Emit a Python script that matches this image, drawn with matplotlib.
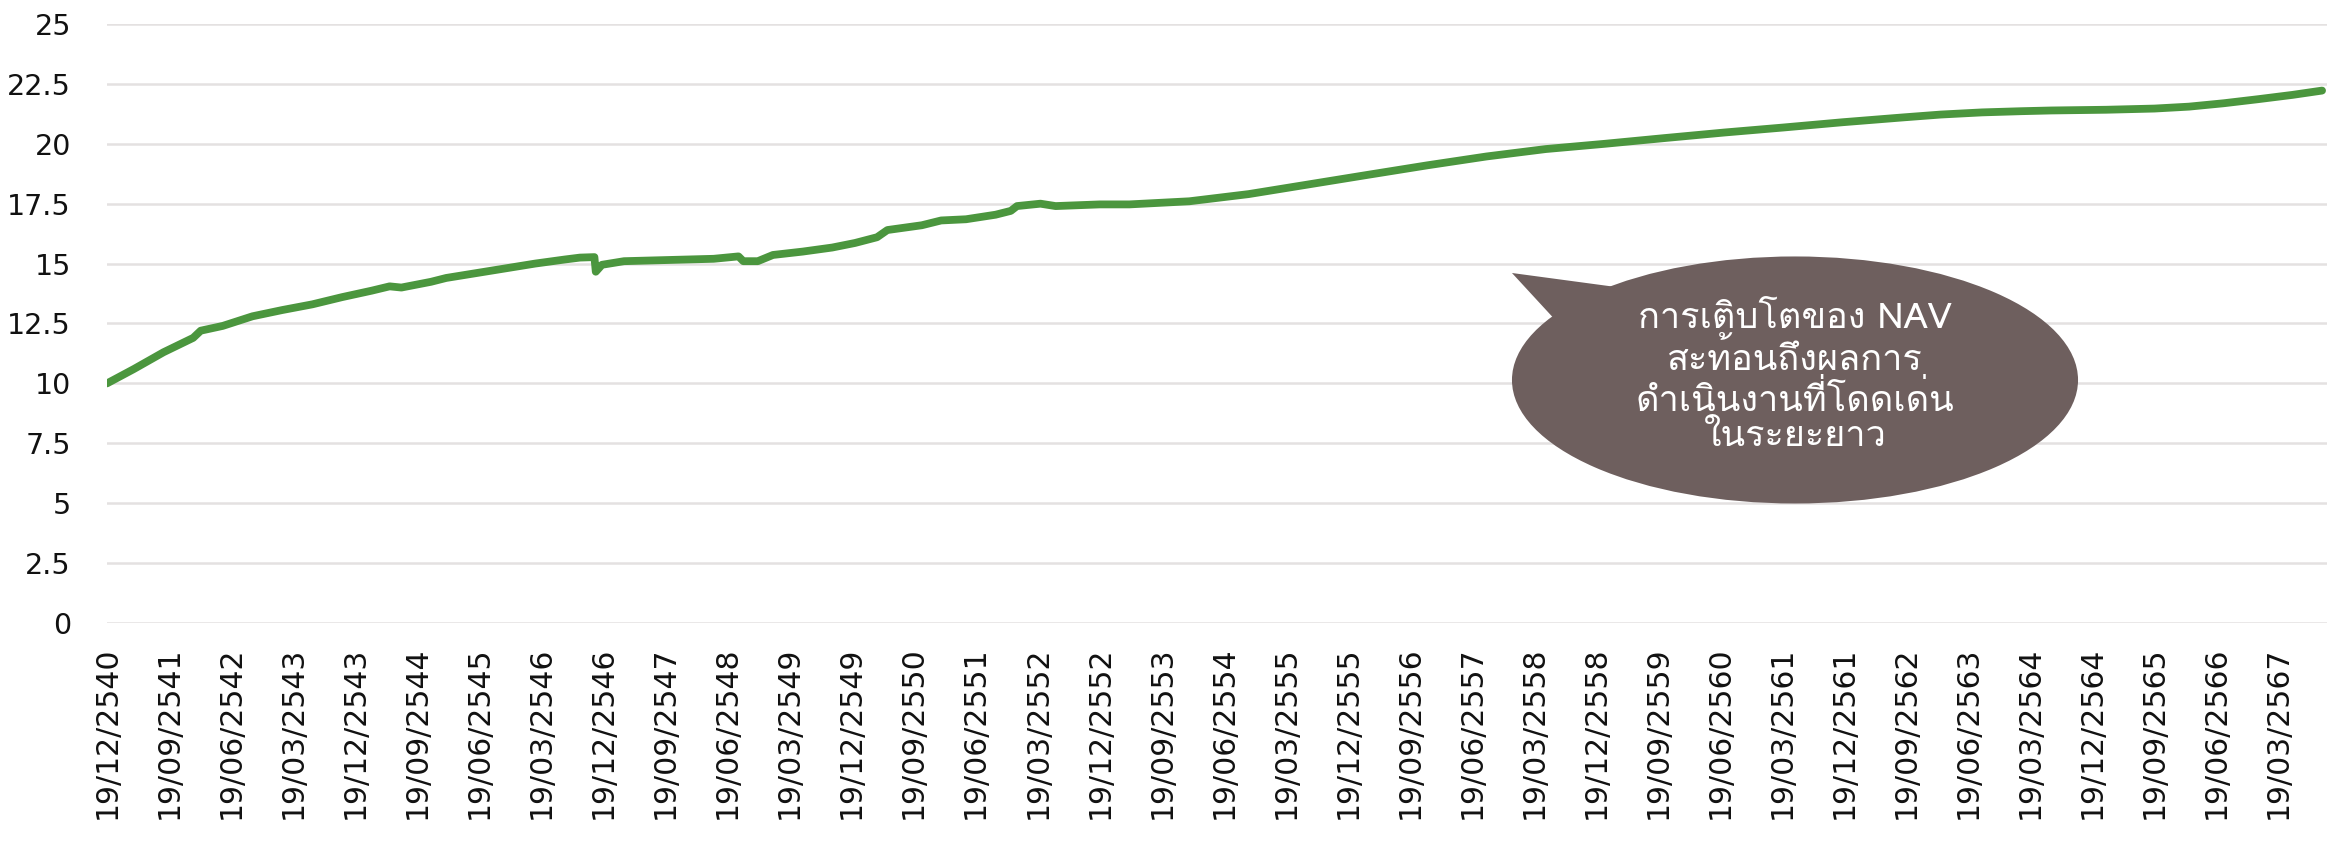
import matplotlib
matplotlib.use('Agg')
import matplotlib.pyplot as plt
from matplotlib import font_manager
from matplotlib.ft2font import FT2Font
from matplotlib.patches import Ellipse, Polygon

# months counted from 19/12/2540, NAV per unit
months = [0, 3.9, 8.2, 12.5, 13.6, 16.8, 21.1, 25.4, 29.8, 34.1, 38.4, 41.0, 42.7,
          47.0, 49.2, 53.5, 57.8, 62.1, 66.4, 68.6, 70.7, 70.9, 71.8, 75.0, 81.5,
          88.0, 91.6, 92.3, 94.4, 96.6, 100.9, 105.2, 108.5, 111.7, 113.2, 118.2,
          121.0, 124.6, 128.9, 131.1, 132.0, 135.4, 137.6, 144.0, 148.3, 157.0,
          165.6, 174.2, 182.8, 191.5, 200.1, 208.7, 217.3, 226.0, 234.6, 243.2,
          251.8, 260.5, 266.0, 272.0, 277.7, 282.0, 290.0, 297.0, 302.0, 307.0,
          312.0, 317.0, 321.3]
nav = [10.0, 10.6, 11.3, 11.9, 12.2, 12.4, 12.8, 13.06, 13.3, 13.6, 13.87, 14.05, 14.0,
       14.24, 14.4, 14.6, 14.8, 15.0, 15.17, 15.25, 15.27, 14.66, 14.95, 15.1, 15.15,
       15.2, 15.3, 15.1, 15.1, 15.36, 15.5, 15.67, 15.86, 16.1, 16.4, 16.6,
       16.8, 16.85, 17.04, 17.2, 17.4, 17.5, 17.4, 17.47, 17.47, 17.6,
       17.9, 18.3, 18.7, 19.1, 19.47, 19.78, 20.0, 20.24, 20.47, 20.68,
       20.9, 21.1, 21.22, 21.31, 21.36, 21.39, 21.42, 21.47, 21.55, 21.69,
       21.86, 22.04, 22.22]

tick_months = list(range(0, 316, 9))
tick_labels = ['19/12/2540', '19/09/2541', '19/06/2542', '19/03/2543', '19/12/2543',
               '19/09/2544', '19/06/2545', '19/03/2546', '19/12/2546', '19/09/2547',
               '19/06/2548', '19/03/2549', '19/12/2549', '19/09/2550', '19/06/2551',
               '19/03/2552', '19/12/2552', '19/09/2553', '19/06/2554', '19/03/2555',
               '19/12/2555', '19/09/2556', '19/06/2557', '19/03/2558', '19/12/2558',
               '19/09/2559', '19/06/2560', '19/03/2561', '19/12/2561', '19/09/2562',
               '19/06/2563', '19/03/2564', '19/12/2564', '19/09/2565', '19/06/2566',
               '19/03/2567']
y_ticks = [0, 2.5, 5, 7.5, 10, 12.5, 15, 17.5, 20, 22.5, 25]
y_labels = ['0', '2.5', '5', '7.5', '10', '12.5', '15', '17.5', '20', '22.5', '25']

callout = 'การเติบโตของ NAV\nสะท้อนถึงผลการ\nดำเนินงานที่โดดเด่น\nในระยะยาว'


def find_thai_font():
    # first installed family that has Thai glyphs
    for f in font_manager.fontManager.ttflist:
        try:
            if 0x0E01 in FT2Font(f.fname).get_charmap():
                return f.name
        except Exception:
            pass
    return 'DejaVu Sans'


thai_font = find_thai_font()

green = '#4b963e'
bubble = '#6e5f5e'
grid_col = '#e4e1e1'

fig = plt.figure(figsize=(23.36, 8.41), dpi=100)
ax = fig.add_axes([0.0458, 0.2592, 0.9503, 0.7123])

ax.plot(months, nav, color=green, lw=5.6, solid_capstyle='round',
        solid_joinstyle='round', zorder=3)

ax.set_xlim(0, 322)
ax.set_ylim(0, 25)
ax.set_yticks(y_ticks)
ax.set_yticklabels(y_labels, fontsize=20.5, family='DejaVu Sans', color='#111111')
ax.set_xticks(tick_months)
ax.set_xticklabels(tick_labels, rotation=90, fontsize=21.5, family='DejaVu Sans',
                   color='#111111')
ax.tick_params(axis='x', length=0, pad=17)
ax.tick_params(axis='y', length=0, pad=26)
ax.grid(axis='y', color=grid_col, lw=1.8, zorder=0)
ax.grid(axis='x', visible=False)
for s in ax.spines.values():
    s.set_visible(False)

# speech bubble
ax.add_patch(Ellipse((0.7604, 0.4057), 0.255, 0.4124, transform=ax.transAxes,
                     facecolor=bubble, edgecolor='none', zorder=4))
ax.add_patch(Polygon([(0.6329, 0.5843), (0.6896, 0.5560), (0.6545, 0.4975)],
                     closed=True, transform=ax.transAxes,
                     facecolor=bubble, edgecolor='none', zorder=4))
ax.text(0.7604, 0.409, callout, transform=ax.transAxes, ha='center', va='center',
        fontsize=26, color='white', linespacing=1.12,
        family=[thai_font, 'DejaVu Sans'], zorder=5)

fig.savefig('out.png', dpi=100)
